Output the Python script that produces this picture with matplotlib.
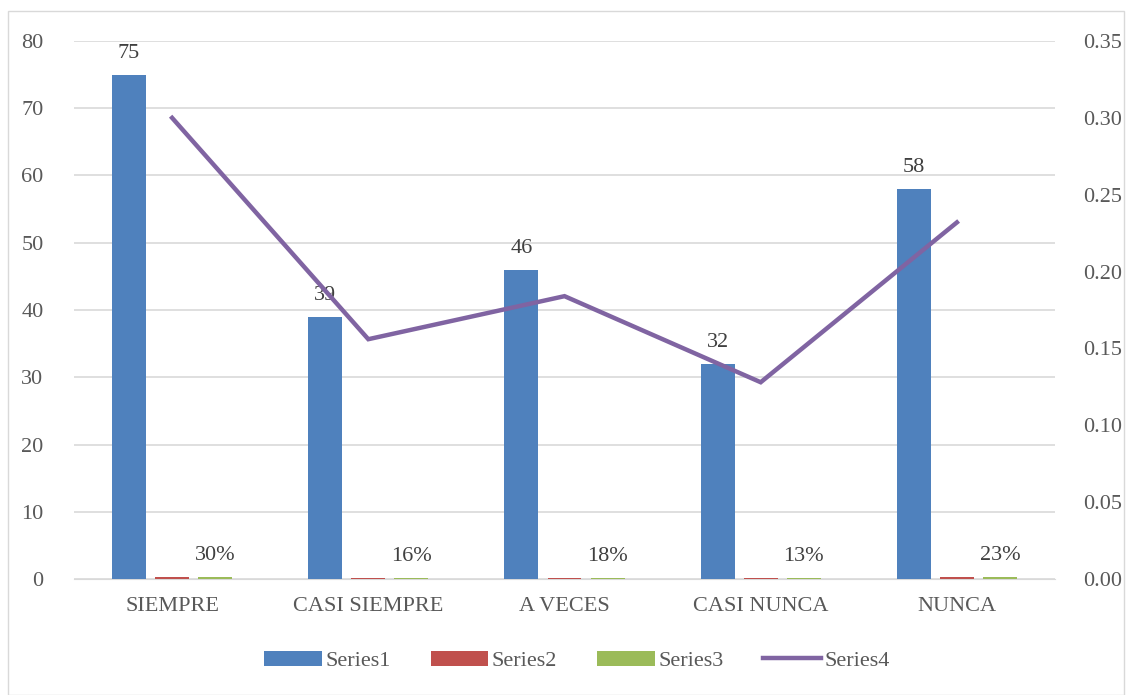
import matplotlib.pyplot as plt
import numpy as np
from matplotlib.patches import Rectangle

categories = ['SIEMPRE', 'CASI SIEMPRE', 'A VECES', 'CASI NUNCA', 'NUNCA']
series1 = [75, 39, 46, 32, 58]
series2 = [0.30, 0.156, 0.184, 0.128, 0.232]
series3 = [0.30, 0.156, 0.184, 0.128, 0.232]
series4 = [0.30, 0.156, 0.184, 0.128, 0.232]

text_color = '#595959'
grid_color = '#d9d9d9'
plt.rcParams['font.family'] = ['Liberation Serif', 'DejaVu Serif']

fig = plt.figure(figsize=(11.26, 6.95), dpi=100)
fig.patches.append(Rectangle((8 / 1126, 0), 1 - 8 / 1126 - 0.002, 1 - 11 / 695,
                             transform=fig.transFigure, fill=False,
                             edgecolor=grid_color, linewidth=1))

ax = fig.add_axes([74 / 1126, 116 / 695, 981 / 1126, 538 / 695])
ax2 = ax.twinx()

x = np.arange(len(categories))
w = 0.173
step = 0.22
b1 = ax.bar(x - step, series1, w, color='#4F81BD', label='Series1', zorder=3)
b2 = ax.bar(x, series2, w, color='#C0504D', label='Series2', zorder=3)
b3 = ax.bar(x + step, series3, w, color='#9BBB59', label='Series3', zorder=3)

# data labels
for xi, v in zip(x - step, series1):
    ax.text(xi, v + 1.8, f'{v}', ha='center', va='bottom', fontsize=16, color='#404040')
for xi, v in zip(x + step, series3):
    ax.text(xi, v + 1.8, f'{v:.0%}', ha='center', va='bottom', fontsize=16, color='#404040')

ln, = ax2.plot(x, series4, color='#8064A2', linewidth=3.2, label='Series4',
               solid_joinstyle='miter', zorder=4)

ax.set_xlim(-0.5, len(categories) - 0.5)
ax.set_ylim(0, 80)
ax.set_yticks(range(0, 81, 10))
ax2.set_ylim(0, 0.35)
ax2.set_yticks(np.arange(0, 0.351, 0.05))
ax2.set_yticklabels([f'{t:.2f}' for t in np.arange(0, 0.351, 0.05)])

ax.set_xticks(x)
ax.set_xticklabels(categories)
ax.yaxis.grid(True, color=grid_color, linewidth=1.2, zorder=0)
ax.set_axisbelow(True)

for a in (ax, ax2):
    for s in a.spines.values():
        s.set_visible(False)
    a.tick_params(length=0, labelsize=16, colors=text_color)
ax.spines['bottom'].set_visible(True)
ax.spines['bottom'].set_color(grid_color)
ax.tick_params(axis='y', pad=22)
ax.tick_params(axis='x', pad=13)
ax2.tick_params(axis='y', pad=20)

handles = [b1, b2, b3, ln]
leg = fig.legend(handles, ['Series1', 'Series2', 'Series3', 'Series4'],
                 loc='center', bbox_to_anchor=(577 / 1126, 1 - 661 / 695),
                 ncol=4, frameon=False, fontsize=16, handlelength=2.6,
                 handleheight=0.7, columnspacing=1.8, handletextpad=0.15)
for t in leg.get_texts():
    t.set_color(text_color)

fig.savefig('out.png', dpi=100)
